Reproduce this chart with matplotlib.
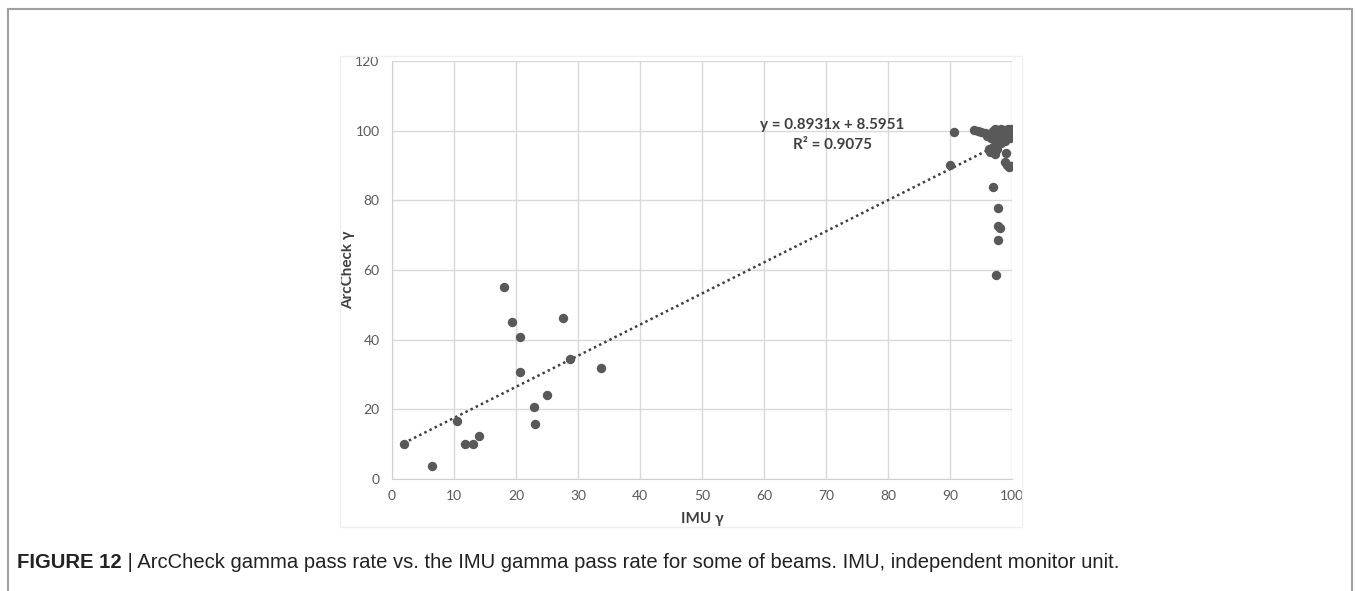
#!/usr/bin/env python3
"""ArcCheck gamma pass rate vs IMU gamma pass rate (Figure 12)."""

import matplotlib
matplotlib.use("Agg")
import matplotlib.pyplot as plt
from matplotlib.lines import Line2D
from matplotlib.patches import Rectangle

W, H = 1356, 591

# -------------------------------------------------
# Data
# -------------------------------------------------
imu_low = [1.9, 6.4, 10.5, 11.7, 13.1, 14.1, 18.1, 19.4, 20.6, 20.6,
           22.9, 23.0, 25.0, 27.6, 28.7, 33.7]
arc_low = [10.0, 3.8, 16.7, 10.1, 10.1, 12.3, 55.1, 45.2, 40.8, 30.6,
           20.8, 15.7, 24.0, 46.1, 34.4, 31.8]

imu_high = [90.7, 90.0, 97.0, 97.7, 97.7, 98.1, 97.7, 97.4, 99.0, 98.8,
            99.2, 99.5, 99.8, 99.9]
arc_high = [99.7, 90.2, 83.9, 77.7, 72.6, 72.2, 68.7, 58.6, 93.7, 91.1,
            90.2, 89.7, 90.0, 89.8]

imu_cluster = [93.8, 94.5, 95.0, 95.6, 96.2, 96.8, 97.0, 97.3, 97.8, 98.3,
               98.8, 99.3, 99.7, 99.8, 99.5, 99.0, 98.5, 98.0, 97.6, 98.6,
               99.2, 97.5, 96.6, 97.9, 98.9, 99.6, 96.3, 96.9, 97.3, 97.6,
               97.2, 96.0, 99.9, 99.9, 98.2, 96.5, 98.0, 99.0]
arc_cluster = [100.2, 99.9, 99.6, 99.3, 99.0, 98.6, 99.8, 100.4, 100.2, 100.4,
               100.3, 100.4, 100.2, 99.5, 98.8, 98.2, 97.6, 97.0, 96.2, 99.2,
               99.5, 98.0, 97.8, 98.8, 97.0, 97.8, 94.6, 95.3, 93.4, 94.8,
               97.4, 98.4, 100.6, 98.6, 96.4, 94.0, 99.6, 99.8]

slope, intercept, r2 = 0.8931, 8.5951, 0.9075

x_ticks = list(range(0, 101, 10))
y_ticks = list(range(0, 121, 20))

imu = imu_low + imu_high + imu_cluster
arc = arc_low + arc_high + arc_cluster

# -------------------------------------------------
# Figure
# -------------------------------------------------
fig = plt.figure(figsize=(W / 100, H / 100), dpi=100)
fig.patch.set_facecolor("white")

# outer gray frame (top, left, right)
frame = "#a0a0a0"
fig.add_artist(Line2D([8 / W, 1352 / W], [1 - 9 / H, 1 - 9 / H], color=frame, lw=1.5))
fig.add_artist(Line2D([8 / W, 8 / W], [0, 1 - 9 / H], color=frame, lw=1.5))
fig.add_artist(Line2D([1352 / W, 1352 / W], [0, 1 - 9 / H], color=frame, lw=1.5))

# faint chart-area border
fig.add_artist(Rectangle((340 / W, 1 - 527 / H), 682 / W, 471 / H,
                         fill=False, ec="#efefef", lw=1))

ax = fig.add_axes([392 / W, 1 - 479 / H, 620 / W, 418 / H])
ax.set_xlim(0, 100)
ax.set_ylim(0, 120)
ax.set_xticks(x_ticks)
ax.set_yticks(y_ticks)
ax.grid(True, color="#d9d9d9", lw=1)
ax.set_axisbelow(True)
for s in ["top", "right"]:
    ax.spines[s].set_visible(False)
for s in ["left", "bottom"]:
    ax.spines[s].set_color("#d0d0d0")
ax.tick_params(length=0, labelsize=10, labelcolor="#595959")
ax.tick_params(axis="y", pad=9)
ax.tick_params(axis="x", pad=8)
for lab in ax.get_xticklabels() + ax.get_yticklabels():
    lab.set_fontfamily("Lato")

ax.scatter(imu, arc, s=46, color="#595959", zorder=3, linewidths=0)

xs = [min(imu), max(imu)]
ax.plot(xs, [slope * v + intercept for v in xs], color="#404040",
        lw=1.8, ls=(0, (1, 1.3)), zorder=2)

ax.text(71, 98.8, f"y = {slope}x + {intercept}\nR\u00b2 = {r2}",
        ha="center", va="center", fontsize=11, fontweight="bold",
        family="Lato", color="#404040", linespacing=1.55)

ax.set_xlabel("IMU \u03b3", fontsize=11, fontweight="bold", family="Lato",
              color="#404040")
ax.set_ylabel("ArcCheck \u03b3", fontsize=11, fontweight="bold", family="Lato",
              color="#404040")
ax.xaxis.set_label_coords(0.5, (479 - 519) / 418, transform=ax.transAxes)
ax.yaxis.set_label_coords((348 - 392) / 620, 0.5, transform=ax.transAxes)
ax.xaxis.label.set_va("center")
ax.yaxis.label.set_va("center")

# caption
cap_y = 1 - 562 / H
cap_fs = 14.6
t1 = fig.text(17 / W, cap_y, "FIGURE 12", fontsize=cap_fs, fontweight="bold",
              family="Liberation Sans", va="center", color="#222222")
fig.canvas.draw()
bb = t1.get_window_extent()
fig.text(bb.x1 / W, cap_y,
         " | ArcCheck gamma pass rate vs. the IMU gamma pass rate for some of beams. "
         "IMU, independent monitor unit.",
         fontsize=cap_fs, family="Liberation Sans", va="center", color="#222222")

fig.savefig("out.png", dpi=100)
